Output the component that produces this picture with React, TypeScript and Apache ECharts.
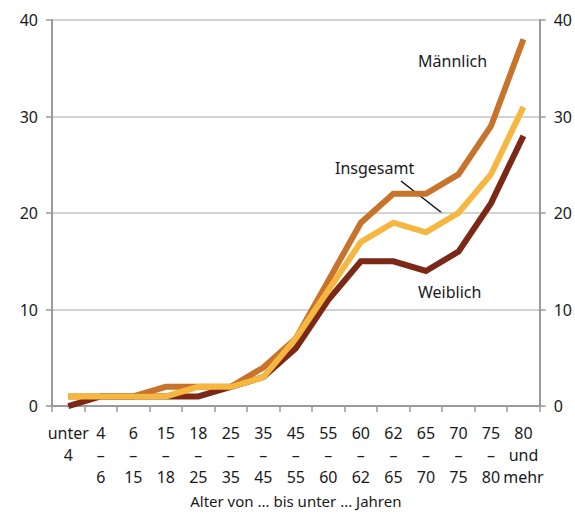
import React, { useEffect, useRef } from "react";
import * as echarts from "echarts";

const categories = [
  "unter\n4", "4\n–\n6", "6\n–\n15", "15\n–\n18", "18\n–\n25", "25\n–\n35", "35\n–\n45",
  "45\n–\n55", "55\n–\n60", "60\n–\n62", "62\n–\n65", "65\n–\n70", "70\n–\n75", "75\n–\n80", "80\nund\nmehr",
];
const maennlich = [1, 1, 1, 2, 2, 2, 4, 7, 13, 19, 22, 22, 24, 29, 38];
const insgesamt = [1, 1, 1, 1, 2, 2, 3, 7, 12, 17, 19, 18, 20, 24, 31];
const weiblich = [0, 1, 1, 1, 1, 2, 3, 6, 11, 15, 15, 14, 16, 21, 28];
const yTicks = [0, 10, 20, 30, 40];

const FONT = "'Noto Sans', sans-serif";
const TEXT = "#1a1a1a";

export default function App() {
  const ref = useRef<HTMLDivElement>(null);
  useEffect(() => {
    const chart = echarts.init(ref.current!, null, { renderer: "svg" });
    const yAxisBase = {
      type: "value" as const,
      min: yTicks[0],
      max: yTicks[yTicks.length - 1],
      interval: 10,
      axisLine: { show: true, lineStyle: { color: "#9a9a9a", width: 2 } },
      axisTick: { show: true, length: 6, lineStyle: { color: "#9a9a9a", width: 1.5 } },
      axisLabel: { fontSize: 16, color: TEXT, fontFamily: FONT, margin: 14 },
    };
    const line = (name: string, data: number[], color: string, z: number) => ({
      name,
      type: "line" as const,
      data,
      symbol: "none",
      z,
      lineStyle: { color, width: 6, join: "miter" },
      itemStyle: { color },
    });
    chart.setOption({
      animation: false,
      grid: { left: 52, right: 34, top: 20, bottom: 100 },
      xAxis: {
        type: "category",
        data: categories,
        boundaryGap: true,
        axisLine: { lineStyle: { color: "#9a9a9a", width: 2 } },
        axisTick: { show: true, length: 6, lineStyle: { color: "#9a9a9a", width: 1.5 } },
        axisLabel: {
          interval: 0,
          fontSize: 16,
          color: TEXT,
          fontFamily: FONT,
          lineHeight: 22,
          margin: 16,
        },
        name: "Alter von ... bis unter ... Jahren",
        nameLocation: "middle",
        nameGap: 78,
        nameTextStyle: { fontSize: 15, color: TEXT, fontFamily: FONT },
      },
      yAxis: [
        {
          ...yAxisBase,
          position: "left",
          splitLine: { show: true, lineStyle: { color: "#c4c4c4", width: 1.5 } },
        },
        {
          ...yAxisBase,
          position: "right",
          splitLine: { show: false },
        },
      ],
      series: [
        line("Männlich", maennlich, "#C8732B", 2),
        line("Weiblich", weiblich, "#7B2816", 3),
        line("Insgesamt", insgesamt, "#F5B740", 4),
      ],
      graphic: [
        { type: "text", left: 418, top: 53, style: { text: "Männlich", fontSize: 16, fill: TEXT, fontFamily: FONT } },
        { type: "text", left: 335, top: 160, style: { text: "Insgesamt", fontSize: 16, fill: TEXT, fontFamily: FONT } },
        { type: "text", left: 418, top: 284, style: { text: "Weiblich", fontSize: 16, fill: TEXT, fontFamily: FONT } },
        { type: "line", shape: { x1: 401, y1: 181, x2: 442, y2: 213 }, style: { stroke: "#111", lineWidth: 1.5 } },
      ],
    });
    return () => chart.dispose();
  }, []);
  return (
    <div
      ref={ref}
      style={{ position: "absolute", left: 0, top: 0, width: 575, height: 513, overflow: "hidden" }}
    />
  );
}
